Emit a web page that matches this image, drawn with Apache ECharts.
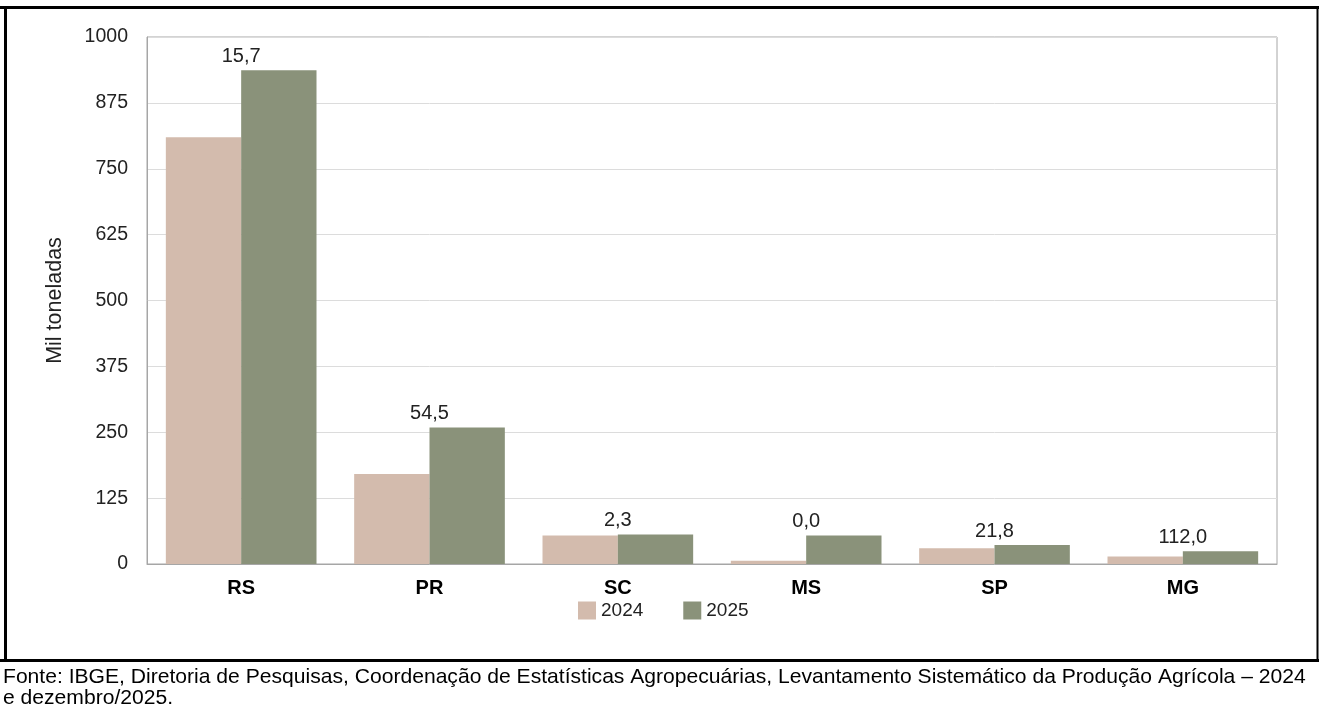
<!DOCTYPE html>
<html>
<head>
<meta charset="utf-8">
<script src="https://cdn.jsdelivr.net/npm/echarts@6/dist/echarts.min.js"></script>
<style>
html,body{margin:0;padding:0;background:#fff;}
#chart{width:1319px;height:707px;}
</style>
</head>
<body>
<div id="chart"></div>
<script>
const categories = ['RS', 'PR', 'SC', 'MS', 'SP', 'MG'];
const values2024 = [810, 171, 54, 6, 30, 14];
const values2025 = [937, 259, 56, 54, 36, 24];
const variation = ['15,7', '54,5', '2,3', '0,0', '21,8', '112,0'];
const yTicks = [0, 125, 250, 375, 500, 625, 750, 875, 1000];
const seriesNames = ['2024', '2025'];
const footerLines = [
  'Fonte: IBGE, Diretoria de Pesquisas, Coordenação de Estatísticas Agropecuárias, Levantamento Sistemático da Produção Agrícola – 2024',
  'e dezembro/2025.'
];

const FONT = '"Liberation Sans", Arial, sans-serif';
const chart = echarts.init(document.getElementById('chart'), null, {renderer: 'canvas'});

const gridLeft = 147, gridRight = 42;
const catWidth = (1319 - gridLeft - gridRight) / categories.length;
const barW = catWidth * 0.8 / 2;

chart.setOption({
  animation: false,
  backgroundColor: '#fff',
  textStyle: {fontFamily: FONT},
  grid: {
    left: gridLeft, right: gridRight, top: 37, bottom: 143,
    show: true, borderColor: '#a6a6a6', borderWidth: 1, backgroundColor: 'transparent'
  },
  legend: {
    left: 573, top: 596,
    itemWidth: 18, itemHeight: 18, itemGap: 40,
    icon: 'rect',
    textStyle: {fontFamily: FONT, fontSize: 19, color: '#222'},
    data: seriesNames
  },
  xAxis: {
    type: 'category',
    data: categories,
    axisLine: {lineStyle: {color: '#a6a6a6'}},
    axisTick: {show: false},
    axisLabel: {fontFamily: FONT, fontSize: 20, fontWeight: 'bold', color: '#000', margin: 14}
  },
  yAxis: {
    type: 'value',
    min: yTicks[0], max: yTicks[yTicks.length - 1], interval: yTicks[1] - yTicks[0],
    name: 'Mil toneladas',
    nameLocation: 'middle',
    nameGap: 81,
    nameRotate: 90,
    nameTextStyle: {fontFamily: FONT, fontSize: 21.5, color: '#222'},
    axisLine: {show: true, lineStyle: {color: '#a6a6a6'}},
    axisTick: {show: false},
    axisLabel: {fontFamily: FONT, fontSize: 19.5, color: '#222', margin: 19, formatter: v => String(v)},
    splitLine: {lineStyle: {color: '#dcdcdc'}}
  },
  series: [
    {
      name: seriesNames[0], type: 'bar', data: values2024,
      barGap: '0%', barCategoryGap: '20%',
      itemStyle: {color: '#D3BBAD'}
    },
    {
      name: seriesNames[1], type: 'bar', data: values2025,
      barGap: '0%', barCategoryGap: '20%',
      itemStyle: {color: '#8A927A'},
      label: {
        show: true, position: 'top', distance: 4,
        offset: [-barW / 2, 0],
        fontFamily: FONT, fontSize: 20, color: '#222',
        formatter: p => variation[p.dataIndex]
      }
    }
  ],
  graphic: [
    {type: 'line', shape: {x1: 0, y1: 7.5, x2: 1319, y2: 7.5}, style: {stroke: '#000', lineWidth: 3}},
    {type: 'line', shape: {x1: 5.5, y1: 6, x2: 5.5, y2: 661}, style: {stroke: '#000', lineWidth: 3}},
    {type: 'line', shape: {x1: 1317.5, y1: 6, x2: 1317.5, y2: 661}, style: {stroke: '#000', lineWidth: 2}},
    {type: 'line', shape: {x1: 0, y1: 660.5, x2: 1319, y2: 660.5}, style: {stroke: '#000', lineWidth: 3}},
    {type: 'text', left: 3, top: 667, style: {text: footerLines.join('\n'), fontFamily: FONT, fontSize: 21.1, lineHeight: 21, fill: '#000'}}
  ]
});
</script>
</body>
</html>
